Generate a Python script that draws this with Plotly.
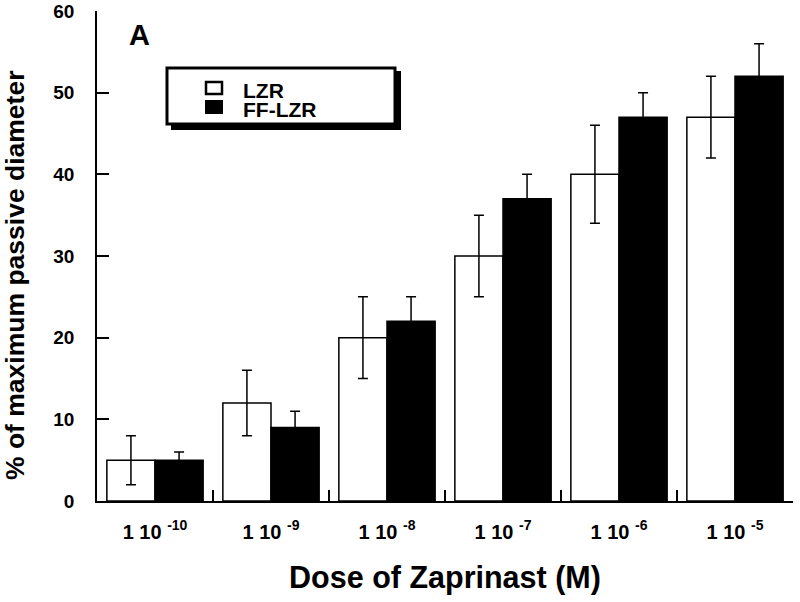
import plotly.graph_objects as go

# ---- data ----
doses = ["1e-10", "1e-9", "1e-8", "1e-7", "1e-6", "1e-5"]
dose_labels = ["1 10 <sup>-10</sup>", "1 10 <sup>-9</sup>", "1 10 <sup>-8</sup>",
               "1 10 <sup>-7</sup>", "1 10 <sup>-6</sup>", "1 10 <sup>-5</sup>"]
lzr_mean = [5, 12, 20, 30, 40, 47]
lzr_err = [3, 4, 5, 5, 6, 5]
fflzr_mean = [5, 9, 22, 37, 47, 52]
fflzr_err = [1, 2, 3, 3, 3, 4]

FONT = "Liberation Sans, Arial, sans-serif"

# plot area in pixels (for layout helpers)
L, R, T, B = 97, 793, 11, 501
W, H = 800, 602


def px(x):
    return (x - L) / (R - L)


def py(y):
    return (B - y) / (B - T)


fig = go.Figure()
fig.add_trace(go.Bar(
    x=doses, y=lzr_mean, name="LZR",
    marker=dict(color="white", line=dict(color="black", width=1.5)),
    error_y=dict(type="data", array=lzr_err, color="black", thickness=1.5, width=5),
    showlegend=False,
))
fig.add_trace(go.Bar(
    x=doses, y=fflzr_mean, name="FF-LZR",
    marker=dict(color="black", line=dict(color="black", width=1.5)),
    error_y=dict(type="data", array=fflzr_err, color="black", thickness=1.5, width=5),
    showlegend=False,
))

shapes = [
    # legend shadow
    dict(type="rect", xref="paper", yref="paper",
         x0=px(171), x1=px(401), y0=py(71), y1=py(130),
         fillcolor="black", line=dict(width=0)),
    # legend box
    dict(type="rect", xref="paper", yref="paper",
         x0=px(167), x1=px(395), y0=py(68), y1=py(124),
         fillcolor="white", line=dict(color="black", width=3)),
    # legend symbols
    dict(type="rect", xref="paper", yref="paper",
         x0=px(206), x1=px(222), y0=py(82), y1=py(94),
         fillcolor="white", line=dict(color="black", width=2.5)),
    dict(type="rect", xref="paper", yref="paper",
         x0=px(205), x1=px(223), y0=py(100), y1=py(114),
         fillcolor="black", line=dict(color="black", width=0)),
]

annotations = [
    dict(text="LZR", xref="paper", yref="paper", x=px(241), y=py(90),
         xanchor="left", yanchor="middle", showarrow=False, height=19,
         font=dict(family=FONT, size=21, color="black", weight="bold")),
    dict(text="FF-LZR", xref="paper", yref="paper", x=px(241), y=py(109.5),
         xanchor="left", yanchor="middle", showarrow=False, height=19,
         font=dict(family=FONT, size=21, color="black", weight="bold")),
    dict(text="A", xref="paper", yref="paper", x=px(139), y=py(35),
         xanchor="center", yanchor="middle", showarrow=False,
         font=dict(family=FONT, size=29, color="black", weight="bold")),
    dict(text="% of maximum passive diameter", xref="paper", yref="paper",
         x=px(15), y=py(276), textangle=-90,
         xanchor="center", yanchor="middle", showarrow=False,
         font=dict(family=FONT, size=26.5, color="black", weight="bold")),
]

fig.update_layout(
    width=W, height=H,
    margin=dict(l=L, r=W - R, t=T, b=H - B, pad=0, autoexpand=False),
    paper_bgcolor="white", plot_bgcolor="white",
    barmode="group", bargap=0.17, bargroupgap=0,
    font=dict(family=FONT, color="black"),
    shapes=shapes, annotations=annotations,
    xaxis=dict(
        tickmode="array", tickvals=doses, ticktext=dose_labels,
        range=[-0.5, 5.5], tickson="boundaries", automargin=False,
        ticks="inside", ticklen=11, tickwidth=1.5, tickcolor="black",
        showline=True, linecolor="black", linewidth=1.5,
        showgrid=False, zeroline=False,
        tickfont=dict(family=FONT, size=20, color="black", weight="bold"),
        ticklabelstandoff=12,
        title=dict(text="Dose of Zaprinast (M)", standoff=25,
                   font=dict(family=FONT, size=30.5, color="black", weight="bold")),
    ),
    yaxis=dict(
        range=[0, 60], dtick=10, tick0=0, automargin=False,
        ticks="inside", ticklen=12, tickwidth=1.5, tickcolor="black",
        showline=True, linecolor="black", linewidth=1.5,
        showgrid=False, zeroline=False,
        tickfont=dict(family=FONT, size=19, color="black", weight="bold"),
        ticklabelstandoff=17,
    ),
)

fig.write_html(
    "out.html",
    config={"displayModeBar": False},
    post_script="document.body.style.margin='0px';document.body.style.overflow='hidden';",
)
